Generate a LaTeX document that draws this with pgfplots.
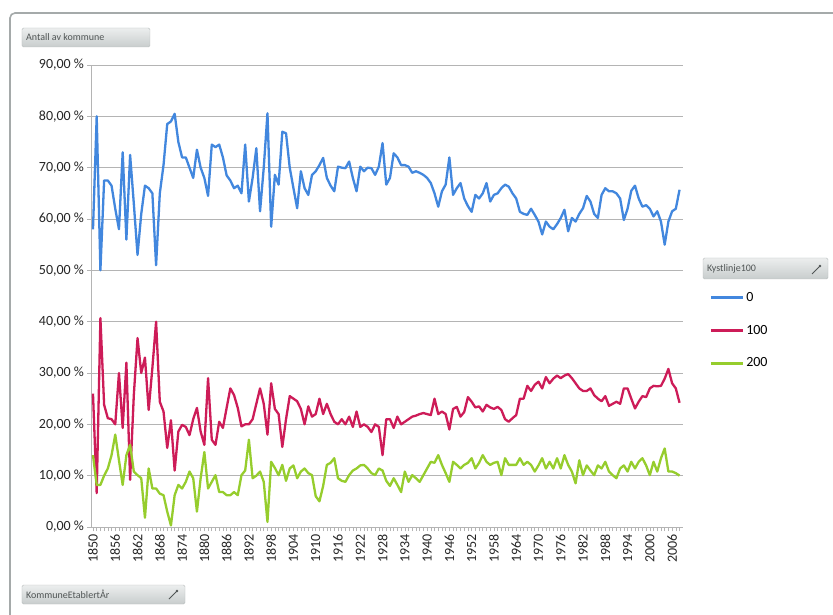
\documentclass[border=0pt]{standalone}
\usepackage{fontspec}
\setmainfont{Carlito}
\usepackage{pgfplots}
\usepackage{pgfplotstable}
\pgfplotsset{compat=1.18}

\definecolor{ser0}{RGB}{66,135,222}
\definecolor{ser100}{RGB}{205,28,88}
\definecolor{ser200}{RGB}{150,205,45}
\definecolor{gridc}{RGB}{180,180,180}
\definecolor{framec}{RGB}{165,170,170}
\definecolor{btntop}{RGB}{236,238,238}
\definecolor{btnbot}{RGB}{200,205,205}
\definecolor{btnedge}{RGB}{185,190,190}
\definecolor{btntext}{RGB}{80,85,85}

% share of municipalities (%) per founding year, by coast class
\pgfplotstableread{
year s0 s100 s200
1850 58 26 14
1851 80 6.6 8.2
1852 50 40.7 8.2
1853 67.5 23.8 10
1854 67.5 21.2 11.4
1855 66.5 21 14
1856 62 20 18
1857 58 30 13
1858 73 19.3 8.2
1859 56 32 14
1860 72.5 9.2 16
1861 63 25.7 10.8
1862 53 36.8 10.1
1863 61 30 9.5
1864 66.5 33 1.8
1865 66 22.8 11.4
1866 65 31 7.5
1867 51 40 7.5
1868 65 24.4 6.5
1869 70.5 22.5 6.2
1870 78.5 15.4 3
1871 79 20.8 0.3
1872 80.5 11 6.2
1873 75 18.6 8.2
1874 72 19.9 7.5
1875 72 19.5 8.8
1876 70 17.9 10.8
1877 68 21 9.5
1878 73.5 23.2 3
1879 70 18.6 9.5
1880 68 16 14.6
1881 64.5 29 7.5
1882 74.5 17 8.8
1883 74 16 10.1
1884 74.5 20.5 6.8
1885 72 19.3 6.8
1886 68.5 23.2 6.2
1887 67.5 27 6.2
1888 66 25.7 6.8
1889 66.5 23.2 6.2
1890 65 19.6 10.1
1891 74.5 20 11
1892 63.4 20 17
1893 68 21 9.5
1894 73.8 24 10
1895 61.5 27 10.8
1896 70 24 8.8
1897 80.6 18 1
1898 58.5 28 12.7
1899 68.6 23 11.5
1900 66.7 22 10.1
1901 77 15.6 12.1
1902 76.7 21 9
1903 70 25.5 11.4
1904 66 25 12
1905 62.1 24.5 9.5
1906 69.3 23 10.8
1907 66 20 11.4
1908 64.7 23.5 10.5
1909 68.6 21.5 10.1
1910 69.3 22 6
1911 70.5 25 5
1912 71.9 22 8
1913 68 24 12.1
1914 66.5 22 12.5
1915 65.4 20.5 13.4
1916 70.2 20 9.5
1917 70 21 9
1918 69.9 20 8.8
1919 71.2 21.5 10.1
1920 68 19.5 11
1921 65.4 22.5 11.4
1922 70.2 19.5 12
1923 69.3 20 12.1
1924 70 19.5 11.4
1925 69.9 18.5 10.5
1926 68.6 20 10.1
1927 70.2 19.5 11.4
1928 74.8 14 11
1929 66.7 21 9
1930 68 21 8
1931 72.8 19.3 9.5
1932 72 21.5 8.2
1933 70.5 20 6.8
1934 70.5 20.5 10.8
1935 70.2 21 8.8
1936 69 21.5 10.1
1937 69.3 21.7 9.5
1938 69 22 8.8
1939 68.6 22.2 10.1
1940 68 22 11.4
1941 67 21.8 12.7
1942 65 25 12.5
1943 62.4 22 14
1944 65.4 22.5 12.1
1945 66.7 22 10.5
1946 72 19 8.8
1947 64.7 23 12.7
1948 66 23.4 12.1
1949 67 21.5 11.4
1950 64 22.4 12.1
1951 62.5 25.3 12.5
1952 61.4 24.4 13.4
1953 64.7 23.3 11.4
1954 64 23.5 12.5
1955 65 22.5 14
1956 67 23.8 12.7
1957 63.4 23.3 12.1
1958 64.7 23 12.5
1959 65 23.4 12.7
1960 66 22.8 10.1
1961 66.7 21 13.4
1962 66.3 20.5 12.1
1963 65 21.2 12.1
1964 64 21.8 12.1
1965 61.4 25 13.4
1966 61 25 12.1
1967 60.8 27.5 12.7
1968 62 26.5 12.1
1969 60.8 27.7 10.8
1970 59.5 28.3 12
1971 57 27 13.4
1972 59.5 29.2 11.4
1973 58.5 28 12.7
1974 58 28.9 11.4
1975 59 29.5 13.4
1976 60.2 29 11.4
1977 61.8 29.5 14
1978 57.6 29.8 12.1
1979 60.2 29 10.8
1980 59.5 28 8.5
1981 61 27 13
1982 62.1 26.5 10.1
1983 64.5 26.5 12
1984 63.4 27 11
1985 61 25.7 10.1
1986 60.2 25 12
1987 64.7 24.5 11.4
1988 66 25.5 12.7
1989 65.4 23.6 10.8
1990 65.4 24 10.1
1991 65 24.4 9.5
1992 64 24 11.4
1993 59.8 27 12
1994 62 27 10.8
1995 65.5 25 12.7
1996 66.5 23.1 11.4
1997 64 24.4 12.7
1998 62.4 25.5 13.4
1999 62.7 25.3 12
2000 62 27 10.1
2001 60.5 27.5 12.7
2002 61.5 27.4 10.8
2003 59.5 27.5 13.4
2004 55 28.9 15.3
2005 59.5 30.8 10.8
2006 61.5 28 10.8
2007 62 27 10.5
2008 65.7 24.2 10
}\datatable

\begin{document}
\begin{tikzpicture}[x=1pt,y=1pt]
% page: the axis box's lower left corner is the origin
\useasboundingbox (-91.5,-87) rectangle (741.5,527);
\fill[white] (-91.5,-87) rectangle (741.5,527);

% chart frame
\draw[framec, line width=1.6pt, rounded corners=5pt] (-81.5,-95) -- (-81.5,514) -- (750,514);

% field button: values
\shade[top color=btntop, bottom color=btnbot, draw=btnedge, rounded corners=1.5pt]
  (-69.5,480) rectangle (58.5,499);
\node[anchor=west, text=btntext, font=\fontsize{10}{10}\selectfont, inner sep=0pt] at (-65.5,489.5) {Antall av kommune};

% field button: axis
\shade[top color=btntop, bottom color=btnbot, draw=btnedge, rounded corners=1.5pt]
  (-69.5,-77) rectangle (93.5,-58);
\node[anchor=west, text=btntext, font=\fontsize{10}{10}\selectfont, inner sep=0pt] at (-65.5,-67.5) {KommuneEtablertÅr};
\draw[btntext, line width=0.8pt] (77.5,-72) -- (85.5,-64);
\fill[btntext] (85.5,-64) circle (1.4pt);

% field button: legend
\shade[top color=btntop, bottom color=btnbot, draw=btnedge, rounded corners=1.5pt]
  (611.5,248) rectangle (736.5,269);
\node[anchor=west, text=btntext, font=\fontsize{10}{10}\selectfont, inner sep=0pt] at (615.5,258.5) {Kystlinje100};
\draw[btntext, line width=0.8pt] (720.5,253) -- (728.5,261);
\fill[btntext] (728.5,261) circle (1.4pt);

\begin{axis}[
  scale only axis,
  width=591pt, height=462pt,
  xmin=1849.6, xmax=2008.8,
  ymin=0, ymax=90,
  axis x line=bottom, axis y line=left,
  axis line style={gridc, line width=0.8pt, -},
  ytick={0,10,...,90},
  yticklabels={{0,00 \%},{10,00 \%},{20,00 \%},{30,00 \%},{40,00 \%},{50,00 \%},{60,00 \%},{70,00 \%},{80,00 \%},{90,00 \%}},
  ymajorgrids,
  grid style={gridc, line width=0.8pt},
  xtick={1850,1856,...,2006},
  minor xtick={1850,1851,...,2008},
  tick align=outside,
  major tick length=4pt, minor tick length=4pt,
  tick style={gridc, line width=0.6pt},
  yticklabel style={font=\fontsize{14}{14}\selectfont, text=black!85},
  xticklabel style={rotate=90, anchor=east, font=\fontsize{14}{14}\selectfont, text=black!85,
    /pgf/number format/1000 sep={}, /pgf/number format/assume math mode=true},
  legend style={at={(1.045,0.512)}, anchor=north west, draw=none, fill=none,
    font=\fontsize{14}{14}\selectfont, row sep=18pt, inner sep=0pt},
  legend cell align=left,
  legend image code/.code={\draw[#1, line width=3pt] (0pt,0pt) -- (32pt,0pt);},
  every axis plot/.append style={line width=2.3pt, line join=round},
]
\addplot[ser0] table[x=year, y=s0] {\datatable};
\addplot[ser100] table[x=year, y=s100] {\datatable};
\addplot[ser200] table[x=year, y=s200] {\datatable};
\legend{0,100,200}
\end{axis}
\end{tikzpicture}
\end{document}
